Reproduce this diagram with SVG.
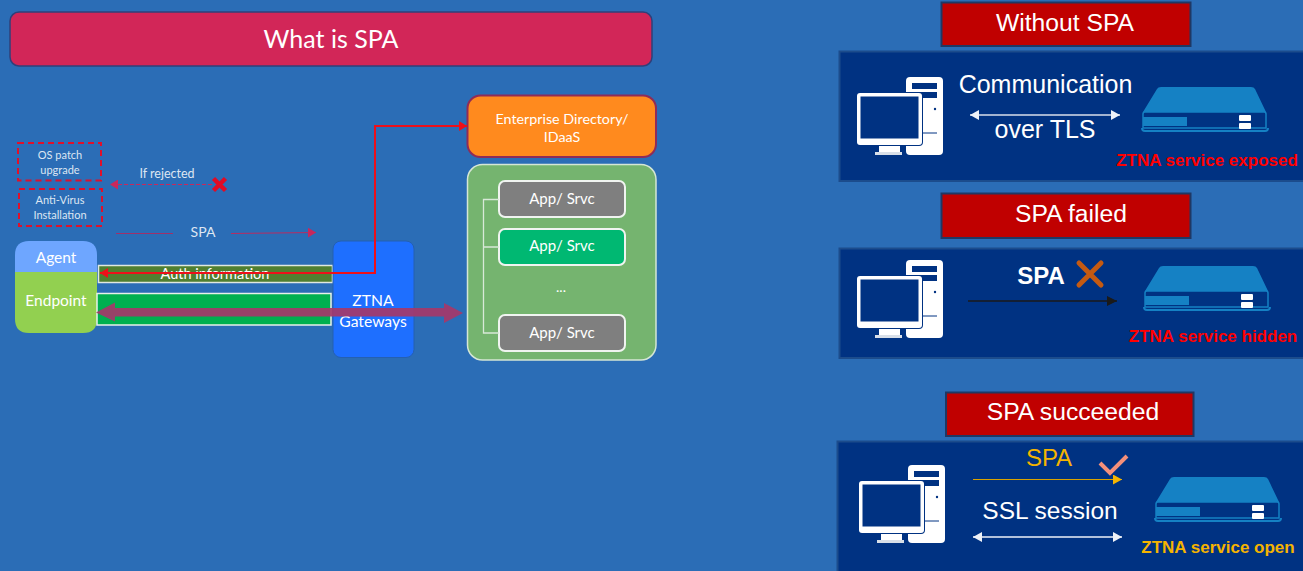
<svg xmlns="http://www.w3.org/2000/svg" width="1303" height="571" viewBox="0 0 1303 571">
<style>
.l{font-family:Lato,"Open Sans",sans-serif;fill:#fff;text-anchor:middle}
.s{fill:#dde6f2}
.r{font-family:"Liberation Sans",Arial,sans-serif;fill:#fff;text-anchor:middle}
.h{fill:#c00000;stroke:#1f3864;stroke-width:2}
.p{fill:#003282;stroke:#1c4c8c;stroke-width:2}
.b{font-weight:bold}
.dash{fill:none;stroke:#e0102a;stroke-width:2;stroke-dasharray:6 4}
.app{stroke:#f0f4f0;stroke-width:2}
.t{fill:none;stroke:#d8e8d8;stroke-width:1.3}
</style>
<defs>
<marker id="aw" markerUnits="userSpaceOnUse" markerWidth="10" markerHeight="10" refX="9" refY="5" orient="auto-start-reverse"><path d="M0 0L9 5L0 10Z" fill="#eef2f8"/></marker>
<marker id="ak" markerUnits="userSpaceOnUse" markerWidth="11" markerHeight="10" refX="10" refY="5" orient="auto"><path d="M0 0L10 5L0 10Z" fill="#1a1a1a"/></marker>
<marker id="ay" markerUnits="userSpaceOnUse" markerWidth="10" markerHeight="10" refX="9" refY="5" orient="auto"><path d="M0 0L9 5L0 10Z" fill="#f5b400"/></marker>
<marker id="ar" markerUnits="userSpaceOnUse" markerWidth="9" markerHeight="10" refX="8" refY="5" orient="auto-start-reverse"><path d="M0 0L8 5L0 10Z" fill="#ee0f1a"/></marker>
<marker id="am" markerUnits="userSpaceOnUse" markerWidth="9" markerHeight="10" refX="8" refY="5" orient="auto"><path d="M0 0L8 5L0 10Z" fill="#c8285c"/></marker>
<symbol id="pc" width="90" height="80" overflow="visible">
<rect x="49" y="0" width="37" height="78" rx="4" fill="#fff"/>
<rect x="55" y="6" width="25" height="6" fill="#003282"/>
<rect x="55" y="15" width="25" height="6" fill="#003282"/>
<circle cx="78" cy="32" r="1.2" fill="#003282"/>
<path d="M65 56H80" stroke="#003282" fill="none"/>
<rect x="-1" y="15" width="67" height="54" rx="4" fill="#003282"/>
<rect x="0" y="16" width="65" height="52" rx="3" fill="#fff"/>
<rect x="3.500" y="19.500" width="58" height="42" fill="#003282"/>
<rect x="22" y="69" width="21" height="6" fill="#fff"/>
<rect x="18" y="75" width="27" height="3" fill="#d8dfe8"/>
</symbol>
<symbol id="rt" width="130" height="46" overflow="visible">
<path d="M16 2Q17 0 20 0H110Q113 0 114 2L125 25H2Z" fill="#1581c4"/>
<path d="M2 27Q2 25 4 25H123Q125 25 125 27V41H2Z" fill="#003282" stroke="#1581c4" stroke-width="1.500"/>
<rect x="2" y="30" width="44" height="9" fill="#1581c4"/>
<rect x="98" y="28" width="12" height="6" rx="1" fill="#fff"/>
<rect x="98" y="36" width="12" height="6" rx="1" fill="#fff"/>
<path d="M1 41Q1 44 4 44H124Q127 44 127 41" fill="none" stroke="#1581c4" stroke-width="2"/>
</symbol>
</defs>
<rect width="1303" height="571" fill="#2b6db6"/>

<g id="title">
<rect x="10" y="12" width="642" height="54" rx="9" fill="#d22658" stroke="#30407a" stroke-width="1.500"/>
<text class="l" x="331" y="48" font-size="25">What is SPA</text>
</g>

<g id="os-patch">
<rect class="dash" x="18" y="143" width="83" height="37.500"/>
<text class="l s" x="60" y="159" font-size="11">OS patch</text>
<text class="l s" x="60" y="174" font-size="11">upgrade</text>
</g>
<g id="anti-virus">
<rect class="dash" x="19" y="189" width="83" height="37"/>
<text class="l s" x="60" y="204" font-size="11">Anti-Virus</text>
<text class="l s" x="60" y="219" font-size="11">Installation</text>
</g>
<g id="rejected">
<text class="l s" x="167" y="178" font-size="12.500">If rejected</text>
<path d="M213.500 178.500L225.500 190.500M225.500 178.500L213.500 190.500" stroke="#e00b25" stroke-width="4.500" fill="none"/>
</g>
<g id="spa-label"><text class="l s" x="203" y="237" font-size="14">SPA</text></g>

<g id="endpoint">
<path d="M15 272V255Q15 241 29 241H83Q97 241 97 255V272Z" fill="#6ea6ff"/>
<path d="M15 272H97V319Q97 333 83 333H29Q15 333 15 319Z" fill="#92d050"/>
<text class="l" x="56" y="263" font-size="15.500">Agent</text>
<text class="l" x="56" y="306" font-size="15.500">Endpoint</text>
</g>
<g id="auth-bar">
<rect x="98.500" y="265.500" width="234" height="17" fill="#4f7f30" stroke="#dfe8e0" stroke-width="1.500"/>
<text class="l" x="215" y="279" font-size="14.500">Auth information</text>
</g>
<g id="session-bar"><rect x="97" y="293.500" width="234" height="31.500" fill="#00b050" stroke="#e8f0ea" stroke-width="1.500"/></g>
<g id="gateway">
<rect x="333" y="241" width="81" height="116.500" rx="8" fill="#1e6fff" stroke="#2560b0"/>
<text class="l" x="373" y="306" font-size="15.700">ZTNA</text>
<text class="l" x="373" y="327" font-size="15.700">Gateways</text>
</g>
<g id="directory">
<rect x="467.500" y="95.500" width="188.500" height="61.500" rx="13" fill="#ff8a1e" stroke="#8f2c58" stroke-width="2"/>
<text class="l" x="562" y="124" font-size="14.300">Enterprise Directory/</text>
<text class="l" x="562" y="142" font-size="14.300">IDaaS</text>
</g>
<g id="apps-panel">
<rect x="467.500" y="164.500" width="188.500" height="195.500" rx="15" fill="#75b46f" stroke="#d5e6d5" stroke-width="1.500"/>
<text class="l" x="561" y="292" font-size="14">...</text>
</g>
<g id="app-1"><rect class="app" x="499" y="181" width="126" height="36" rx="6" fill="#7f7f7f"/><text class="l" x="562" y="204" font-size="15">App/ Srvc</text></g>
<g id="app-2"><rect class="app" x="499" y="229" width="126" height="36" rx="6" fill="#00b872"/><text class="l" x="562" y="251" font-size="15">App/ Srvc</text></g>
<g id="app-3"><rect class="app" x="499" y="315" width="126" height="36" rx="6" fill="#7f7f7f"/><text class="l" x="562" y="338" font-size="15">App/ Srvc</text></g>

<g id="without-spa">
<rect class="h" x="941.500" y="2.500" width="249" height="43.500"/>
<text class="r" x="1065" y="31" font-size="24.700">Without SPA</text>
<rect class="p" x="839.500" y="51.500" width="470" height="129.500"/>
<use href="#pc" x="857" y="77"/>
<use href="#rt" x="1141" y="87"/>
<text class="r" x="1045.500" y="93" font-size="25">Communication</text>
<text class="r" x="1045" y="138" font-size="25">over TLS</text>
<text class="r b" x="1207" y="166" font-size="17" style="fill:#f00">ZTNA service exposed</text>
</g>
<g id="spa-failed">
<rect class="h" x="941.500" y="193.500" width="249" height="44.500"/>
<text class="r" x="1071" y="222" font-size="24.700">SPA failed</text>
<rect class="p" x="839.500" y="248.500" width="470" height="109.500"/>
<use href="#pc" x="857" y="260"/>
<use href="#rt" x="1143" y="266"/>
<text class="r b" x="1041" y="284" font-size="24">SPA</text>
<path d="M1079 263L1101 285M1101 263L1079 285" stroke="#c55a11" stroke-width="5" stroke-linecap="round" fill="none"/>
<text class="r b" x="1213" y="342" font-size="17" style="fill:#f00">ZTNA service hidden</text>
</g>
<g id="spa-succeeded">
<rect class="h" x="946" y="392.500" width="247.500" height="43.500"/>
<text class="r" x="1073" y="420" font-size="24.700">SPA succeeded</text>
<rect class="p" x="837.500" y="441.500" width="472" height="135"/>
<use href="#pc" x="859" y="465"/>
<use href="#rt" x="1154" y="477"/>
<text class="r" x="1049" y="466" font-size="24" style="fill:#f5b400">SPA</text>
<path d="M1100 463L1110 473L1127 456" stroke="#f4907a" stroke-width="4" fill="none"/>
<text class="r" x="1050" y="519" font-size="24.500">SSL session</text>
<text class="r b" x="1218" y="553" font-size="17" style="fill:#f5b400">ZTNA service open</text>
</g>

<g id="connectors" fill="none">
<path d="M212 184.500H110" stroke="#c8285c" stroke-dasharray="4 2" marker-end="url(#am)"/>
<path d="M116 233.500H173" stroke="#a0306a"/>
<path d="M231 233.500L316 232.500" stroke="#b82c62" marker-end="url(#am)"/>
<path d="M100 273H375V126H467" stroke="#ee0f1a" stroke-width="2" marker-start="url(#ar)" marker-end="url(#ar)"/>
<path d="M96 312.500L115 302.500V308H444V303L463 313L444 323V316.500H115V321.500Z" fill="#a5386a" fill-opacity="0.92"/>
<path class="t" d="M499 199.500H483.500V333H499M483.500 247H499"/>
<path d="M970 115H1120" stroke="#d8dfea" stroke-width="1.300" marker-start="url(#aw)" marker-end="url(#aw)"/>
<path d="M968 301H1117" stroke="#1a1a1a" stroke-width="1.500" marker-end="url(#ak)"/>
<path d="M973 479.500H1122" stroke="#d9a200" stroke-width="1.200" marker-end="url(#ay)"/>
<path d="M973 537H1122" stroke="#eef2f8" stroke-width="1.300" marker-start="url(#aw)" marker-end="url(#aw)"/>
</g>
</svg>
